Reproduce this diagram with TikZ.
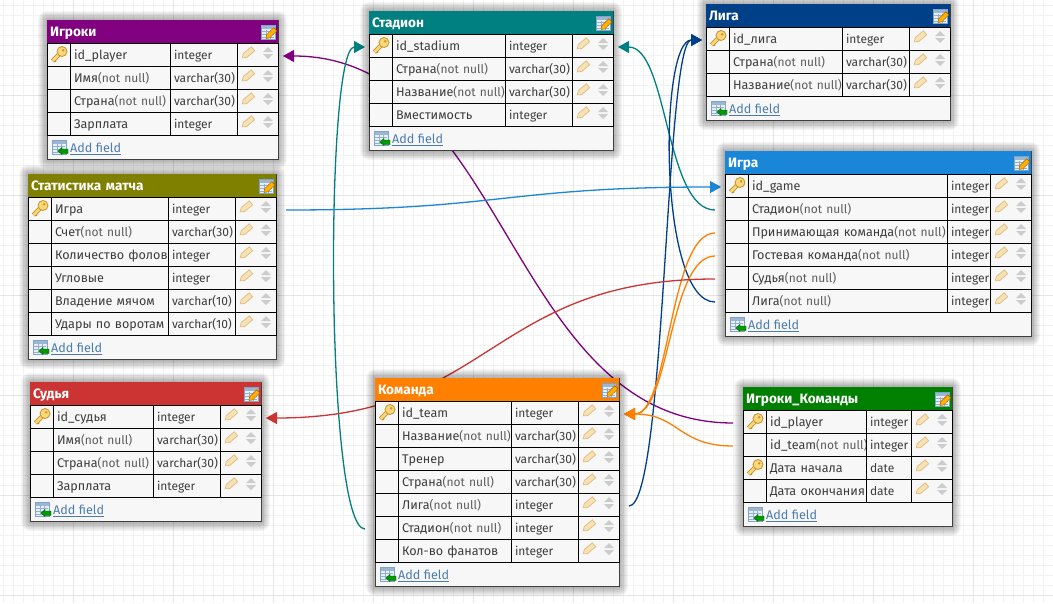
\documentclass[tikz,border=0pt]{standalone}
\usepackage{fontspec}
\setmainfont{Fira Sans}
\usetikzlibrary{calc,arrows.meta,backgrounds}

\definecolor{colViolet}{HTML}{800080}
\definecolor{colTeal}{HTML}{008080}
\definecolor{colNavy}{HTML}{004088}
\definecolor{colSky}{HTML}{1A86D8}
\definecolor{colOlive}{HTML}{808000}
\definecolor{colRed}{HTML}{CC3333}
\definecolor{colOrange}{HTML}{FF8000}
\definecolor{colGreen}{HTML}{008000}
\definecolor{colText}{HTML}{3C3C3C}
\definecolor{colNull}{HTML}{5C5C5C}
\definecolor{colLink}{HTML}{4A7CB0}
\definecolor{colKey}{HTML}{F8D878}
\definecolor{colKeyEdge}{HTML}{C8922A}
\definecolor{colPencil}{HTML}{F6E2B4}
\definecolor{colPencilEdge}{HTML}{E4BE84}

\newcommand{\nullnote}[1]{{\fontsize{12}{15}\selectfont\color{colNull}#1}}

\tikzset{
  tablebox/.style={draw=black!75,fill=black!3,line width=1pt,anchor=north west,inner sep=0pt,outer sep=0pt},
  tablehead/.style={anchor=north west,inner xsep=3pt,inner ysep=0pt,outer sep=0pt,minimum height=23pt,
    text=white,font=\bfseries\fontsize{13.6}{15}\selectfont,text height=12pt,text depth=2pt,align=left},
  fieldcell/.style={draw=black,line width=.9pt,anchor=north west,inner xsep=4pt,inner ysep=0pt,outer sep=0pt,
    minimum height=23pt,text=colText,font=\fontsize{12}{15}\selectfont,text height=12pt,text depth=2pt,align=left},
  namecell/.style={fieldcell,font=\fontsize{12.6}{15}\selectfont},
  addlink/.style={anchor=west,inner sep=0pt,text=colLink,font=\fontsize{12.6}{15}\selectfont},
  wirelink/.style={line width=1.3pt,-{Triangle[length=11pt,width=12pt]}},
  pics/keyicon/.style={code={
    \draw[colKeyEdge,line width=4.4pt] (-6.5,6.5) -- (2,-2);
    \draw[colKeyEdge,line width=1.6pt] (-5,5) -- (-3,7);
    \draw[colKey,line width=2.8pt] (-6.3,6.3) -- (2,-2);
    \draw[fill=colKey,draw=colKeyEdge,line width=.8pt] (3,-3) circle (5pt);
    \fill[colKeyEdge] (4.2,-4.2) circle (1.3pt);
  }},
  pics/pencilicon/.style={code={
    \draw[rotate=40,fill=colPencil,draw=colPencilEdge,line width=.8pt]
      (-7.5,0) -- (-4,-2.6) -- (6.5,-2.6) -- (6.5,2.6) -- (-4,2.6) -- cycle;
  }},
  pics/updownicon/.style={code={
    \fill[black!20] (-5,-1) -- (0,-6) -- (5,-1) -- cycle;
    \fill[black!20] (-5,1) -- (0,6) -- (5,1) -- cycle;
  }},
  pics/gridicon/.style={code={
    \draw[fill=colLink!12!white,draw=colLink!70!white,line width=.9pt] (-7,-7) rectangle (7,7);
    \fill[colLink!55!white] (-6.5,-6.5) rectangle (6.5,-3.5);
    \foreach \c in {-1,2,5} \draw[colLink!60!white,line width=.5pt] (-6,\c) -- (6,\c);
    \foreach \c in {-2,2} \draw[colLink!60!white,line width=.5pt] (\c,-3) -- (\c,6);
  }},
  pics/editicon/.style={code={
    \pic {gridicon};
    \draw[shift={(3,1)},rotate=45,fill=orange!60!yellow,draw=orange!70!black,line width=.5pt]
      (-7,0) -- (-4,-2.2) -- (6,-2.2) -- (6,2.2) -- (-4,2.2) -- cycle;
  }},
  pics/addicon/.style={code={
    \pic {gridicon};
    \draw[fill=green!60!black,draw=green!35!black,line width=.4pt]
      (-1,4) -- (3,.5) -- (3,2) -- (9,2) -- (9,6.5) -- (3,6.5) -- (3,7.5) -- cycle;
  }},
}

% id, colour, title, left and top, rows, name width, type width, fields
\newcommand{\dbtable}[8]{%
  \begin{scope}[shift={(#4)}]
    \pgfmathsetmacro{\tw}{23+#6+#7+41}
    \pgfmathsetmacro{\th}{23+23*#5+24}
    \pgfmathsetmacro{\nw}{#6-8}
    \pgfmathsetmacro{\yw}{#7-8}
    \foreach \r in {1,...,9}
      \fill[black,opacity=.035,rounded corners=\r pt] (-\r,-\r) rectangle (\tw+\r,\th+\r+1);
    \node[tablebox,minimum width=\tw pt,minimum height=\th pt] (#1) at (0,0) {};
    \node[tablehead,fill=#2,minimum width=\tw pt,text width=\tw pt-6pt] (#1-head) at (0,0) {#3};
    \pic at (\tw-10,12.5) {editicon};
    \foreach \k/\nm/\nn/\ty [count=\i] in {#8} {
      \pgfmathsetmacro{\yy}{23*\i}
      \node[fieldcell,minimum width=23pt] (#1-\i-key) at (0,\yy) {};
      \node[namecell,text width=\nw pt] (#1-\i) at (23,\yy) {\mbox{\nm\nullnote{\nn}}};
      \node[fieldcell,text width=\yw pt] (#1-\i-type) at (23+#6,\yy) {\mbox{\ty}};
      \node[fieldcell,minimum width=41pt] (#1-\i-act) at (23+#6+#7,\yy) {};
      \ifnum\k=1 \pic at (12,\yy+11.5) {keyicon}; \fi
      \pic at (34+#6+#7,\yy+10) {pencilicon};
      \pic at (54+#6+#7,\yy+10) {updownicon};
      \coordinate (#1-\i-ol) at ($(#1-\i-key.west)+(-10,1.5)$);
      \coordinate (#1-\i-il) at ($(#1-\i-key.west)+(-4,1.5)$);
      \coordinate (#1-\i-or) at ($(#1-\i-act.east)+(10,1.5)$);
      \coordinate (#1-\i-ir) at ($(#1-\i-act.east)+(5,1.5)$);
    }
    \pic at (12,23+23*#5+12) {addicon};
    \node[addlink] (#1-add) at (23,23+23*#5+14) {\underline{Add field}};
  \end{scope}
}

\begin{document}
\begin{tikzpicture}[x=1pt,y=-1pt]
  \useasboundingbox (0,0) rectangle (1053,603);
  \begin{scope}[on background layer]
    \fill[white] (0,0) rectangle (1053,603);
    \foreach \g in {3,13,...,1053} \draw[black!5,line width=1pt] (\g,0) -- (\g,603);
    \foreach \g in {5,15,...,603} \draw[black!5,line width=1pt] (0,\g) -- (1053,\g);
    \foreach \g in {73,173,...,1053} \draw[black!10,line width=1pt] (\g,0) -- (\g,603);
    \foreach \g in {95,195,...,603} \draw[black!10,line width=1pt] (0,\g) -- (1053,\g);
  \end{scope}

  \dbtable{igroki}{colViolet}{Игроки}{47,20}{4}{100}{67}{
    1/id\_player/{}/integer,
    0/Имя/(not null)/varchar(30),
    0/Страна/(not null)/varchar(30),
    0/Зарплата/{}/integer}
  \dbtable{stadion}{colTeal}{Стадион}{369,11}{4}{113}{67}{
    1/id\_stadium/{}/integer,
    0/Страна/(not null)/varchar(30),
    0/Название/(not null)/varchar(30),
    0/Вместимость/{}/integer}
  \dbtable{liga}{colNavy}{Лига}{706,4}{3}{113}{67}{
    1/id\_лига/{}/integer,
    0/Страна/(not null)/varchar(30),
    0/Название/(not null)/varchar(30)}
  \dbtable{igra}{colSky}{Игра}{725,151}{6}{199}{43}{
    1/id\_game/{}/integer,
    0/Стадион/(not null)/integer,
    0/Принимающая команда/(not null)/integer,
    0/Гостевая команда/(not null)/integer,
    0/Судья/(not null)/integer,
    0/Лига/(not null)/integer}
  \dbtable{stat}{colOlive}{Статистика матча}{28,174}{6}{117}{67}{
    1/Игра/{}/integer,
    0/Счет/(not null)/varchar(30),
    0/Количество фолов/{}/integer,
    0/Угловые/{}/integer,
    0/Владение мячом/{}/varchar(10),
    0/Удары по воротам/{}/varchar(10)}
  \dbtable{sudya}{colRed}{Судья}{30,382}{4}{100}{67}{
    1/id\_судья/{}/integer,
    0/Имя/(not null)/varchar(30),
    0/Страна/(not null)/varchar(30),
    0/Зарплата/{}/integer}
  \dbtable{komanda}{colOrange}{Команда}{375,378}{7}{113}{67}{
    1/id\_team/{}/integer,
    0/Название/(not null)/varchar(30),
    0/Тренер/{}/varchar(30),
    0/Страна/(not null)/varchar(30),
    0/Лига/(not null)/integer,
    0/Стадион/(not null)/integer,
    0/Кол-во фанатов/{}/integer}
  \dbtable{svyaz}{colGreen}{Игроки\_Команды}{743,387}{4}{100}{45}{
    1/id\_player/{}/integer,
    0/id\_team/(not null)/integer,
    1/Дата начала/{}/date,
    0/Дата окончания/{}/date}

  \begin{scope}[on background layer]
    \draw[wirelink,colViolet] (svyaz-1-ol) .. controls +(-225,0) and +(225,0) .. (igroki-1-ir);
    \draw[wirelink,colTeal] (igra-2-ol) .. controls +(-50,0) and +(50,0) .. (stadion-1-ir);
    \draw[wirelink,colTeal] (komanda-6-ol) .. controls +(-40,0) and +(-40,0) .. (stadion-1-il);
    \draw[wirelink,colNavy] (igra-6-ol) .. controls +(-57,0) and +(-43,0) .. (liga-1-il);
    \draw[wirelink,colNavy] (komanda-5-or) .. controls +(37,0) and +(-37,0) .. (liga-1-il);
    \draw[wirelink,colSky] (stat-1-or) .. controls +(217,0) and +(-217,0) .. (igra-1-il);
    \draw[wirelink,colOrange] (igra-3-ol) .. controls +(-46,0) and +(46,0) .. (komanda-1-ir);
    \draw[wirelink,colOrange] (igra-4-ol) .. controls +(-46,0) and +(46,0) .. (komanda-1-ir);
    \draw[wirelink,colOrange] (svyaz-2-ol) .. controls +(-55,0) and +(55,0) .. (komanda-1-ir);
    \draw[wirelink,colRed] (igra-5-ol) .. controls +(-225,0) and +(225,0) .. (sudya-1-ir);
  \end{scope}
\end{tikzpicture}
\end{document}
